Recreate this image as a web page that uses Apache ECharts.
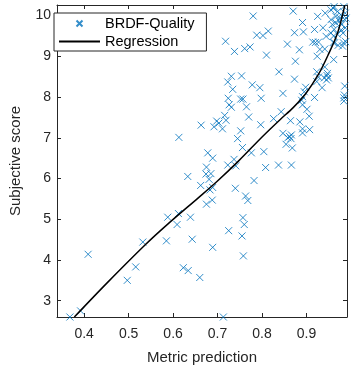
<!DOCTYPE html>
<html>
<head>
<meta charset="utf-8">
<script src="https://cdn.jsdelivr.net/npm/echarts@6/dist/echarts.min.js"></script>
<style>
  html, body { margin: 0; padding: 0; background: #fff; }
  #chart { width: 353px; height: 370px; }
</style>
</head>
<body>
<div id="chart"></div>
<script>
// scatter: metric prediction (x) vs subjective score (y)
const predX = [
  0.368, 0.392, 0.409, 0.497, 0.516, 0.532, 0.585, 0.588, 0.609, 0.612,
  0.613, 0.623, 0.634, 0.633, 0.639, 0.643, 0.660, 0.662, 0.663, 0.675,
  0.678, 0.674, 0.681, 0.675, 0.685, 0.689, 0.683, 0.688, 0.689, 0.689,
  0.692, 0.698, 0.703, 0.711, 0.713, 0.716, 0.718, 0.719, 0.725, 0.723,
  0.723, 0.724, 0.726, 0.731, 0.731, 0.734, 0.737, 0.738, 0.740, 0.741,
  0.745, 0.752, 0.754, 0.752, 0.756, 0.755, 0.757, 0.758, 0.760, 0.757,
  0.761, 0.763, 0.765, 0.768, 0.770, 0.773, 0.776, 0.778, 0.780, 0.782,
  0.788, 0.795, 0.797, 0.798, 0.802, 0.804, 0.808, 0.810, 0.814, 0.826,
  0.838, 0.837, 0.843, 0.847, 0.847, 0.857, 0.854, 0.858, 0.862, 0.865,
  0.866, 0.864, 0.866, 0.868, 0.870, 0.873, 0.873, 0.875, 0.884, 0.885,
  0.891, 0.893, 0.889, 0.891, 0.891, 0.891, 0.891, 0.895, 0.898, 0.901,
  0.907, 0.906, 0.914, 0.918, 0.918, 0.920, 0.923, 0.924, 0.925, 0.927,
  0.923, 0.927, 0.930, 0.937, 0.935, 0.940, 0.941, 0.941, 0.944, 0.942,
  0.946, 0.945, 0.947, 0.949, 0.955, 0.955, 0.958, 0.960, 0.955, 0.960,
  0.962, 0.961, 0.963, 0.961, 0.962, 0.966, 0.966, 0.971, 0.970, 0.974,
  0.975, 0.978, 0.979, 0.977, 0.982, 0.983, 0.984, 0.986, 0.984, 0.985,
  0.986, 0.984, 0.981, 0.987, 0.988, 0.989, 0.987, 0.970
];
const scoreY = [
  2.60, 2.75, 4.14, 3.50, 3.83, 4.44, 4.47, 5.05, 4.87, 5.14,
  7.01, 3.81, 3.74, 6.05, 5.05, 4.51, 3.57, 5.83, 7.31, 6.28,
  6.63, 6.11, 5.98, 5.37, 6.12, 6.50, 5.72, 5.47, 5.78, 4.31,
  7.27, 7.41, 7.36, 7.22, 2.60, 7.55, 9.37, 7.43, 4.72, 8.37,
  6.33, 7.97, 7.81, 8.51, 7.75, 8.19, 6.47, 9.12, 5.76, 6.31,
  6.98, 7.95, 8.52, 7.17, 6.76, 4.59, 5.04, 4.10, 4.87, 7.95,
  9.19, 5.57, 7.76, 5.46, 7.51, 9.23, 6.63, 8.30, 9.99, 5.95,
  9.52, 8.23, 7.32, 7.97, 9.51, 6.66, 6.27, 9.03, 9.62, 7.47,
  8.62, 6.33, 7.64, 8.09, 7.11, 9.30, 6.84, 7.00, 7.03, 6.98,
  7.07, 7.42, 6.33, 6.75, 10.11, 9.58, 8.44, 8.88, 9.16, 7.39,
  9.83, 9.60, 7.92, 8.01, 7.81, 7.22, 7.12, 8.13, 8.24, 7.70,
  7.20, 7.53, 9.35, 9.66, 7.99, 9.34, 8.62, 9.00, 9.98, 8.49,
  8.38, 9.35, 9.17, 9.70, 8.23, 8.47, 8.74, 9.18, 9.49, 10.06,
  8.53, 8.42, 8.58, 8.47, 9.57, 9.90, 9.78, 9.34, 10.14, 10.18,
  9.66, 9.50, 9.33, 8.92, 10.22, 9.98, 9.82, 9.27, 10.10, 9.86,
  9.94, 9.65, 9.78, 10.02, 9.57, 9.33, 10.22, 9.90, 7.98, 8.05,
  8.27, 7.90, 9.25, 9.70, 9.36, 9.94, 10.06, 9.54
];

// regression curve
const regX = [0.378, 0.45, 0.538, 0.588, 0.656, 0.698, 0.748, 0.80, 0.841, 0.87, 0.898, 0.927, 0.948, 0.970, 0.986];
const regY = [2.60, 3.42, 4.38, 4.88, 5.52, 5.92, 6.44, 7.02, 7.45, 7.74, 8.08, 8.56, 9.02, 9.58, 10.25];

const xTicks = [0.4, 0.5, 0.6, 0.7, 0.8, 0.9];
const yTicks = [3, 4, 5, 6, 7, 8, 9, 10];

const axisColor = '#262626';
const fontFamily = '"Liberation Sans", Arial, sans-serif';

const scatterData = predX.map((x, i) => [x, scoreY[i]]);
const regData = regX.map((x, i) => [x, regY[i]]);

const chart = echarts.init(document.getElementById('chart'), null, {renderer: 'canvas'});

function frameAxis(pos, min, max, ticks, showLabel) {
  return {
    type: 'value',
    position: pos,
    min: min,
    max: max,
    axisLine: {show: true, onZero: false, lineStyle: {color: axisColor, width: 1}},
    axisTick: {show: true, inside: true, length: 4, customValues: ticks, lineStyle: {color: axisColor}},
    axisLabel: {
      show: showLabel,
      customValues: ticks,
      color: axisColor,
      fontSize: 14,
      fontFamily: fontFamily
    },
    splitLine: {show: false}
  };
}

const xBottom = frameAxis('bottom', 0.339, 0.991, xTicks, true);
xBottom.axisLabel.margin = 10;
xBottom.name = 'Metric prediction';
xBottom.nameLocation = 'middle';
xBottom.nameGap = 33;
xBottom.nameTextStyle = {color: axisColor, fontSize: 15, fontFamily: fontFamily};

const yLeft = frameAxis('left', 2.6, 10.26, yTicks, true);
yLeft.axisLabel.margin = 6;
yLeft.name = 'Subjective score';
yLeft.nameLocation = 'middle';
yLeft.nameGap = 34;
yLeft.nameTextStyle = {color: axisColor, fontSize: 15, fontFamily: fontFamily};

const option = {
  animation: false,
  backgroundColor: '#fff',
  grid: {left: 42, right: 6, top: 5, bottom: 47, containLabel: false},
  xAxis: [xBottom, frameAxis('top', 0.339, 0.991, xTicks, false)],
  yAxis: [yLeft, frameAxis('right', 2.6, 10.26, yTicks, false)],
  legend: {
    orient: 'vertical',
    left: 54,
    top: 13,
    padding: [3, 12, 2, 4],
    itemWidth: 41,
    itemHeight: 6,
    itemGap: 3,
    borderColor: axisColor,
    borderWidth: 1,
    borderRadius: 0,
    backgroundColor: '#fff',
    textStyle: {color: '#000', fontSize: 14.5, fontFamily: fontFamily},
    data: [
      {name: 'BRDF-Quality'},
      {name: 'Regression', itemStyle: {opacity: 0}}
    ]
  },
  series: [
    {
      name: 'BRDF-Quality',
      type: 'scatter',
      xAxisIndex: 0,
      yAxisIndex: 0,
      symbol: 'path://M0,0L10,10M10,0L0,10',
      symbolSize: 7,
      symbolKeepAspect: true,
      clip: true,
      itemStyle: {color: '#0072BD', borderColor: '#0072BD', borderWidth: 1},
      data: scatterData
    },
    {
      name: 'Regression',
      type: 'line',
      xAxisIndex: 0,
      yAxisIndex: 0,
      showSymbol: false,
      symbol: 'none',
      smooth: 0.3,
      lineStyle: {color: '#000', width: 1.5},
      itemStyle: {color: '#000'},
      data: regData
    }
  ]
};

chart.setOption(option);
</script>
</body>
</html>
